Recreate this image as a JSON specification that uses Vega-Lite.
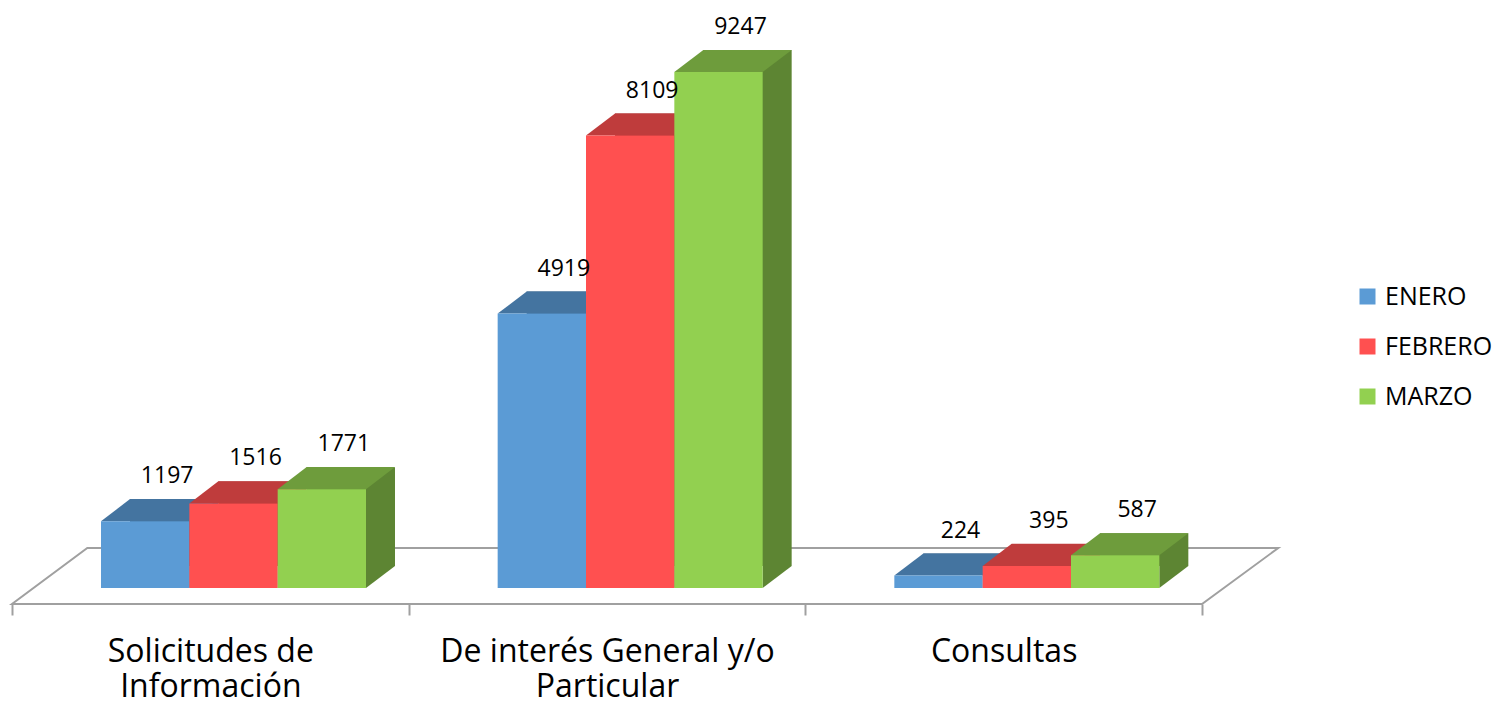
{
  "$schema": "https://vega.github.io/schema/vega-lite/v6.json",
  "width": 1190,
  "height": 558,
  "autosize": {"type": "none"},
  "padding": {"left": 12, "top": 30, "right": 305, "bottom": 124},
  "background": "white",
  "config": {"view": {"stroke": null}, "font": "Open Sans"},
  "datasets": {
    "barras": [
      {"categoria": "Solicitudes de Información", "mes": "ENERO", "valor": 1197},
      {"categoria": "Solicitudes de Información", "mes": "FEBRERO", "valor": 1516},
      {"categoria": "Solicitudes de Información", "mes": "MARZO", "valor": 1771},
      {"categoria": "De interés General y/o Particular", "mes": "ENERO", "valor": 4919},
      {"categoria": "De interés General y/o Particular", "mes": "FEBRERO", "valor": 8109},
      {"categoria": "De interés General y/o Particular", "mes": "MARZO", "valor": 9247},
      {"categoria": "Consultas", "mes": "ENERO", "valor": 224},
      {"categoria": "Consultas", "mes": "FEBRERO", "valor": 395},
      {"categoria": "Consultas", "mes": "MARZO", "valor": 587}
    ]
  },
  "data": {"name": "barras"},
  "encoding": {
    "x": {
      "field": "categoria",
      "type": "nominal",
      "scale": {
        "domain": ["Solicitudes de Información", "De interés General y/o Particular", "Consultas"],
        "paddingInner": 0,
        "paddingOuter": 0
      },
      "axis": {
        "title": null,
        "domain": false,
        "grid": false,
        "ticks": true,
        "tickBand": "extent",
        "tickSize": 11,
        "tickColor": "#A0A0A0",
        "tickWidth": 2,
        "offset": 16,
        "labelAngle": 0,
        "labelFontSize": 32,
        "labelFont": "Open Sans",
        "labelColor": "black",
        "labelPadding": 21,
        "labelLineHeight": 35,
        "labelLimit": 0,
        "labelOverlap": false,
        "labelBound": false,
        "labelExpr": "datum.value == 'Solicitudes de Información' ? ['Solicitudes de', 'Información'] : datum.value == 'De interés General y/o Particular' ? ['De interés General y/o', 'Particular'] : datum.value"
      }
    },
    "y": {
      "field": "valor",
      "type": "quantitative",
      "scale": {"domain": [0, 10000], "nice": false, "zero": true},
      "axis": null
    }
  },
  "layer": [
    {
      "transform": [{"filter": "datum.categoria == 'De interés General y/o Particular' && datum.mes == 'ENERO'"}],
      "mark": {
        "type": "point",
        "shape": "M -5.95 0.16 L 5.95 0.16 L 6.713 -0.4 L -5.197 -0.4 Z",
        "size": 40000,
        "filled": true,
        "fill": "white",
        "stroke": "#A0A0A0",
        "strokeWidth": 2,
        "opacity": 1
      },
      "encoding": {"y": {"datum": 0}}
    },
    {
      "mark": {"type": "bar", "yOffset": -22, "y2Offset": -22},
      "encoding": {
        "xOffset": {"field": "mes", "type": "nominal", "scale": {"domain": ["ENERO", "FEBRERO", "MARZO"], "range": [118, 383], "paddingInner": 0, "paddingOuter": 0}},
        "color": {"field": "mes", "type": "nominal", "scale": {"domain": ["ENERO", "FEBRERO", "MARZO"], "range": ["#3A6388", "#A33333", "#5D8533"]}, "legend": null}
      }
    },
    {
      "mark": {"type": "point", "shape": "M 1 -0.5 L 1 0 L 1.657 -0.5 Z", "size": 7803, "filled": true, "opacity": 1, "strokeWidth": 0},
      "encoding": {
        "y": {"datum": 0},
        "xOffset": {"field": "mes", "type": "nominal", "scale": {"domain": ["ENERO", "FEBRERO", "MARZO"], "range": [133.17, 309.83], "padding": 0}},
        "color": {"field": "mes", "type": "nominal", "scale": {"domain": ["ENERO", "FEBRERO", "MARZO"], "range": ["#3A6388", "#A33333", "#5D8533"]}, "legend": null}
      }
    },
    {
      "mark": {"type": "point", "shape": "M -1 0 L 1 0 L 1.657 -0.5 L -0.343 -0.5 Z", "size": 7803, "filled": true, "opacity": 1, "strokeWidth": 0},
      "encoding": {
        "xOffset": {"field": "mes", "type": "nominal", "scale": {"domain": ["ENERO", "FEBRERO", "MARZO"], "range": [133.17, 309.83], "padding": 0}},
        "color": {"field": "mes", "type": "nominal", "scale": {"domain": ["ENERO", "FEBRERO", "MARZO"], "range": ["#4474A0", "#BF3C3C", "#6E9C3C"]}, "legend": null}
      }
    },
    {
      "mark": {"type": "bar"},
      "encoding": {
        "xOffset": {"field": "mes", "type": "nominal", "scale": {"domain": ["ENERO", "FEBRERO", "MARZO"], "range": [89, 354], "paddingInner": 0, "paddingOuter": 0}},
        "color": {
          "field": "mes",
          "type": "nominal",
          "scale": {"domain": ["ENERO", "FEBRERO", "MARZO"], "range": ["#5B9BD5", "#FF5050", "#92D050"]},
          "legend": {
            "title": null,
            "orient": "none",
            "legendX": 1343,
            "legendY": 254,
            "padding": 0,
            "symbolType": "square",
            "symbolSize": 256,
            "symbolStrokeWidth": 0,
            "labelFontSize": 25,
            "labelFont": "Open Sans",
            "labelColor": "black",
            "rowPadding": 24,
            "labelOffset": 5
          }
        }
      }
    },
    {
      "mark": {"type": "text", "dx": 22, "dy": -38, "baseline": "alphabetic", "align": "center", "fontSize": 23, "font": "Open Sans", "color": "black"},
      "encoding": {
        "xOffset": {"field": "mes", "type": "nominal", "scale": {"domain": ["ENERO", "FEBRERO", "MARZO"], "range": [133.17, 309.83], "padding": 0}},
        "text": {"field": "valor", "type": "quantitative"}
      }
    }
  ],
  "resolve": {"scale": {"color": "independent", "xOffset": "independent"}}
}
